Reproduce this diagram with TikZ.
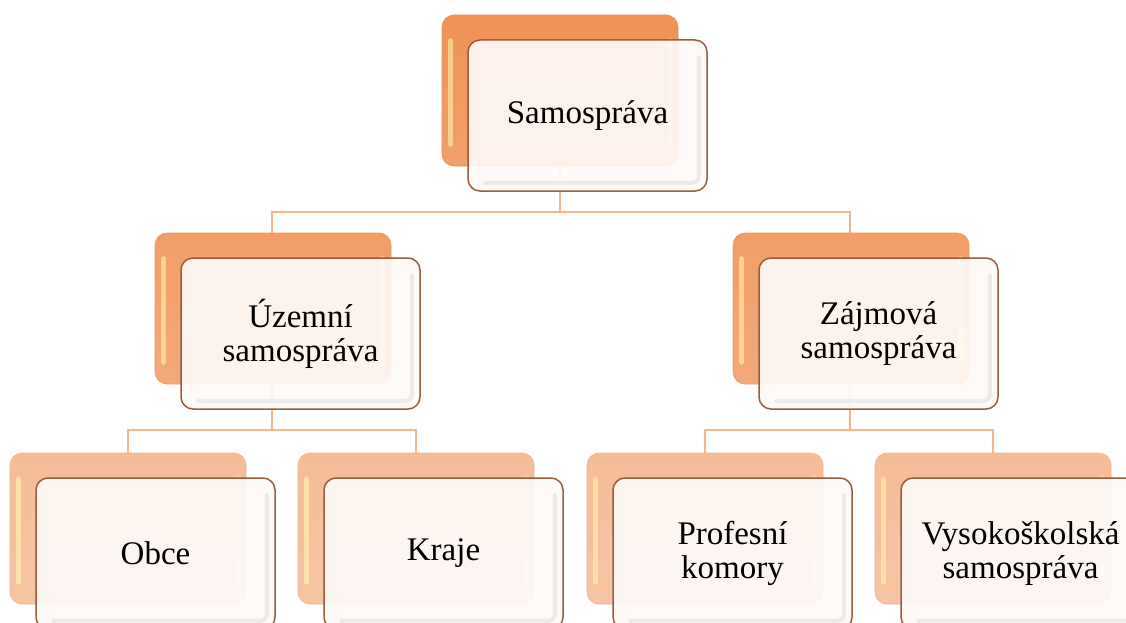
\documentclass[tikz,border=0pt]{standalone}
\usepackage{fontspec}
\setmainfont{Liberation Serif}
\usetikzlibrary{calc}

\definecolor{tileTop}{HTML}{F09255}
\definecolor{tileMid}{HTML}{F29D66}
\definecolor{tileLow}{HTML}{F5BC98}
\definecolor{frameBrown}{HTML}{9A5C3A}
\definecolor{linkOrange}{HTML}{F7B491}
\definecolor{paneFill}{HTML}{FEFAF8}

\tikzset{
  backtile/.style={rounded corners=12pt, minimum width=236pt, minimum height=151pt,
    inner sep=0pt, top color=#1, bottom color=#1!88!white,
    draw=#1!85!brown, line width=0.6pt},
  fronttile/.style={rounded corners=12pt, minimum width=239pt, minimum height=151pt,
    inner sep=0pt, fill=paneFill, fill opacity=0.92, text opacity=1,
    draw=frameBrown, line width=1.5pt, align=center,
    font=\fontsize{33}{34}\selectfont},
  gloss/.style={white!70!yellow, line width=5pt, line cap=round, opacity=0.55},
  bevel/.style={draw=black!8, line width=4pt, line cap=round},
  link/.style={draw=linkOrange, line width=2.2pt},
}

% one unit of the chart: a coloured tile with a glass pane shifted onto it
\newcommand\orgunit[5]{%
  \node[backtile=#4] (#1b) at ({#2+118}, {#3+75.5}) {};
  \draw[gloss] ($(#1b.north west)+(9,26)$) -- ($(#1b.south west)+(9,-22)$);
  \draw[gloss] ($(#1b.north east)+(-9,26)$) -- ($(#1b.south east)+(-9,-22)$);
  \node[fronttile] (#1f) at ({#2+26+119.5}, {#3+25+75.5}) {#5};
  \draw[bevel, rounded corners=6pt]
    ($(#1f.north east)+(-9,18)$) -- ($(#1f.south east)+(-9,-9)$)
    -- ($(#1f.south west)+(18,-9)$);
}

\begin{document}
\begin{tikzpicture}[x=1pt, y=-1pt]
  \useasboundingbox (0,0) rectangle (1126,623);
  \fill[white] (0,0) rectangle (1126,623);

  % connectors are drawn first so that the tiles sit on top of them
  \coordinate (topbus) at (560,212);
  \coordinate (leftbus) at (272,430);
  \coordinate (rightbus) at (850,430);

  \draw[link] (560,165) -- (topbus);
  \draw[link] (topbus) -| (272,233);
  \draw[link] (topbus) -| (850,233);
  \draw[link] (272,385) -- (leftbus);
  \draw[link] (leftbus) -| (128,453);
  \draw[link] (leftbus) -| (416,453);
  \draw[link] (850,385) -- (rightbus);
  \draw[link] (rightbus) -| (705,453);
  \draw[link] (rightbus) -| (993,453);

  \orgunit{root}{442}{15}{tileTop}{Samospráva}
  \orgunit{uzem}{155}{233}{tileMid}{Územní\\samospráva}
  \orgunit{zajm}{733}{233}{tileMid}{Zájmová\\samospráva}
  \orgunit{obce}{10}{453}{tileLow}{Obce}
  \orgunit{kraje}{298}{453}{tileLow}{Kraje}
  \orgunit{prof}{587}{453}{tileLow}{Profesní\\komory}
  \orgunit{vys}{875}{453}{tileLow}{Vysokoškolská\\samospráva}
\end{tikzpicture}
\end{document}
